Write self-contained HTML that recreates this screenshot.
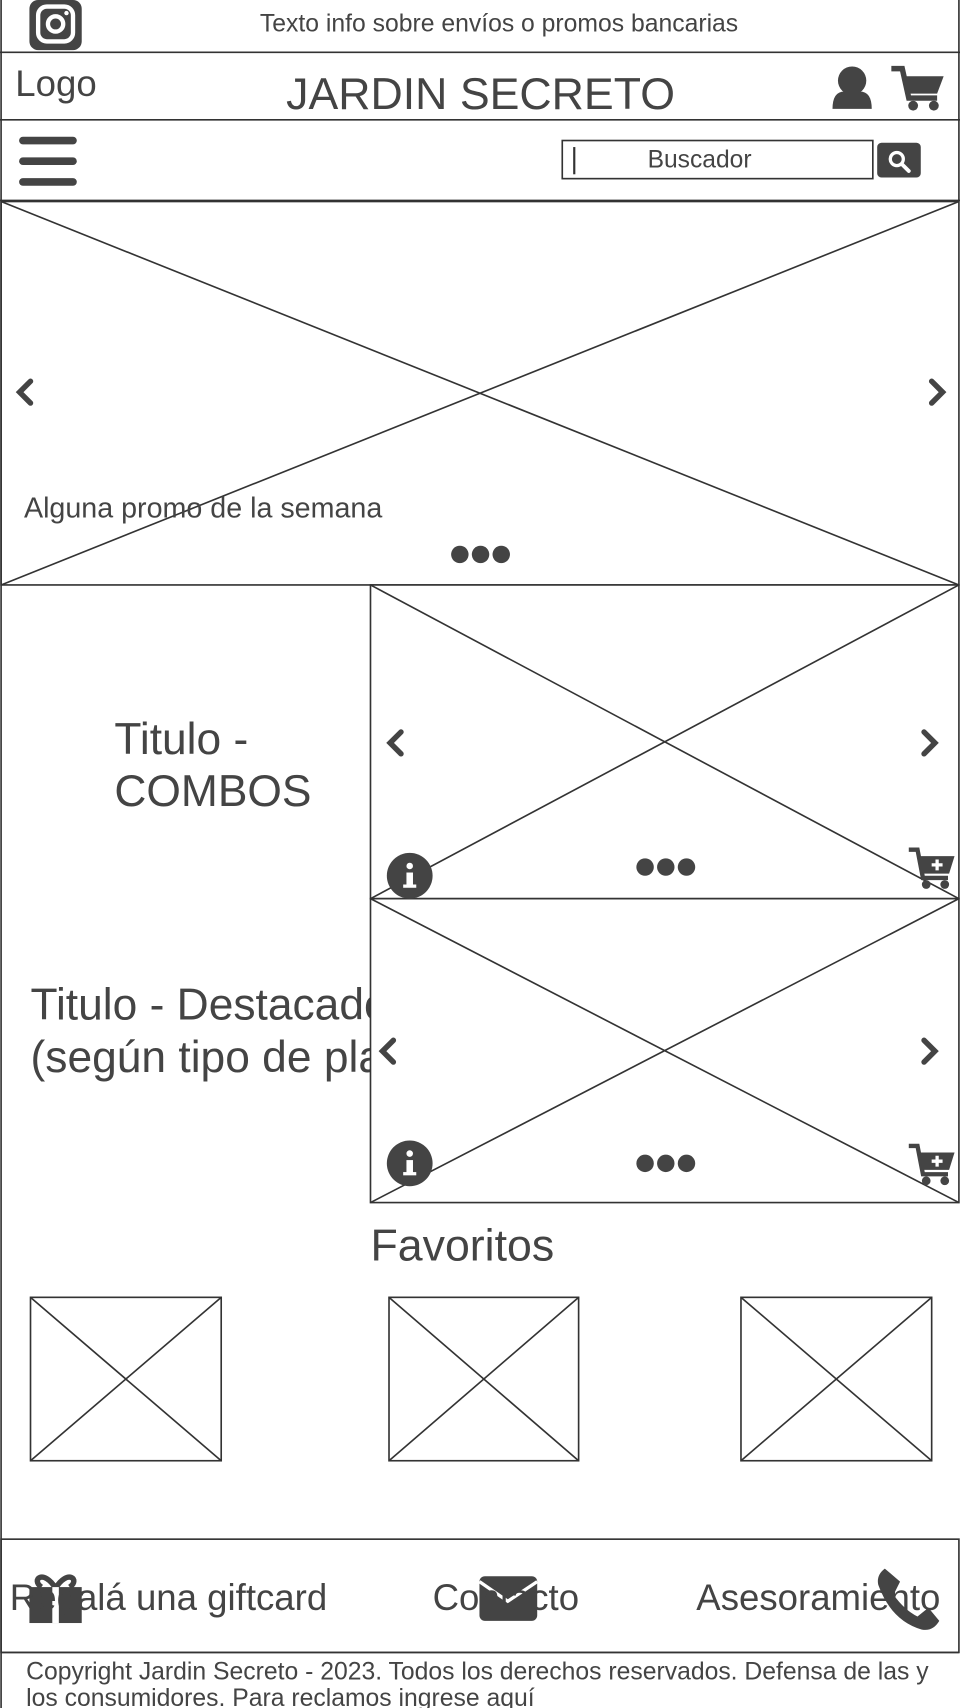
<!DOCTYPE html>
<html><head><meta charset="utf-8"><style>
html,body{margin:0;padding:0;background:#fff;}
svg{display:block;}
text{font-family:"Liberation Sans",sans-serif;fill:#444;}
</style></head><body>
<svg width="960" height="1708" viewBox="0 0 881 1568" preserveAspectRatio="none" xmlns="http://www.w3.org/2000/svg">
<g stroke="#333" stroke-width="1.5" fill="none">
<line x1="1" y1="0" x2="1" y2="1568"/>
<line x1="880" y1="0" x2="880" y2="184"/>
<line x1="0" y1="48" x2="881" y2="48"/>
<line x1="0" y1="110" x2="881" y2="110"/>
<line x1="0" y1="184" x2="881" y2="184"/>
</g>
<rect x="27" y="0" width="48" height="46" rx="8" fill="#444"/>
<rect x="35" y="6" width="32" height="32" rx="8" fill="none" stroke="#fff" stroke-width="4"/>
<circle cx="51" cy="22" r="7" fill="none" stroke="#fff" stroke-width="4"/>
<circle cx="61" cy="12" r="2" fill="#fff"/>
<text x="458" y="29" font-size="22.7" text-anchor="middle">Texto info sobre envíos o promos bancarias</text>
<text x="14" y="88" font-size="33.6">Logo</text>
<text x="441" y="100" font-size="41" text-anchor="middle">JARDIN SECRETO</text>
<circle cx="782" cy="74" r="13" fill="#444"/>
<path d="M764 100 Q764 84 775 84 L789 84 Q800 84 800 100 Z" fill="#444"/>
<path d="M818 63 L828 63 L834 90 L860 90" fill="none" stroke="#444" stroke-width="5"/>
<path d="M830 70 L866 70 L860 86 L834 86 Z" fill="#444"/>
<circle cx="838" cy="97" r="4.5" fill="#444"/><circle cx="857" cy="97" r="4.5" fill="#444"/>
<g stroke="#444" stroke-width="7" stroke-linecap="round">
<line x1="21" y1="129" x2="67" y2="129"/><line x1="21" y1="148" x2="67" y2="148"/><line x1="21" y1="167" x2="67" y2="167"/>
</g>
<rect x="516" y="129" width="285" height="35" fill="#fff" stroke="#333" stroke-width="1.5"/>
<line x1="527" y1="135" x2="527" y2="160" stroke="#333" stroke-width="2"/>
<text x="642" y="154" font-size="22.6" text-anchor="middle">Buscador</text>
<rect x="805" y="131" width="40" height="32" rx="4" fill="#444"/>
<circle cx="823" cy="146" r="6" fill="none" stroke="#fff" stroke-width="3"/>
<line x1="828" y1="151" x2="834" y2="157" stroke="#fff" stroke-width="3.5" stroke-linecap="round"/>
<g stroke="#333" stroke-width="1.5" fill="none">
<rect x="1" y="185" width="879" height="352"/>
<line x1="1" y1="185" x2="880" y2="537"/><line x1="880" y1="185" x2="1" y2="537"/>
</g>
<g stroke="#444" stroke-width="5" fill="none" stroke-linecap="round">
<polyline points="28,350 18,360 28,370"/><polyline points="855,350 865,360 855,370"/>
</g>
<text x="22" y="475" font-size="26.3">Alguna promo de la semana</text>
<circle cx="422" cy="509" r="8" fill="#444"/><circle cx="441" cy="509" r="8" fill="#444"/><circle cx="460" cy="509" r="8" fill="#444"/>
<text x="105" y="692" font-size="40.7">Titulo -</text>
<text x="105" y="740" font-size="40.7">COMBOS</text>
<text x="28" y="936" font-size="40.7">Titulo - Destacados</text>
<text x="28" y="984" font-size="40.7">(según tipo de planta)</text>
<g stroke="#333" stroke-width="1.5">
<rect x="340" y="537" width="540" height="288" fill="#fff"/>
<line x1="340" y1="537" x2="880" y2="825"/><line x1="880" y1="537" x2="340" y2="825"/>
<rect x="340" y="825" width="540" height="279" fill="#fff"/>
<line x1="340" y1="825" x2="880" y2="1104"/><line x1="880" y1="825" x2="340" y2="1104"/>
</g>
<g stroke="#444" stroke-width="5" fill="none" stroke-linecap="round">
<polyline points="368,672 358,682 368,692"/><polyline points="848,672 858,682 848,692"/>
<polyline points="361,955 351,965 361,975"/><polyline points="848,955 858,965 848,975"/>
</g>
<g>
<circle cx="376" cy="804" r="21" fill="#444"/>
<circle cx="376" cy="795" r="3" fill="#fff"/><rect x="373" y="801" width="6" height="13" fill="#fff"/><rect x="370" y="812" width="12" height="3" fill="#fff"/>
<circle cx="376" cy="1068" r="21" fill="#444"/>
<circle cx="376" cy="1059" r="3" fill="#fff"/><rect x="373" y="1065" width="6" height="13" fill="#fff"/><rect x="370" y="1076" width="12" height="3" fill="#fff"/>
</g>
<circle cx="592" cy="796" r="8" fill="#444"/><circle cx="611" cy="796" r="8" fill="#444"/><circle cx="630" cy="796" r="8" fill="#444"/>
<circle cx="592" cy="1068" r="8" fill="#444"/><circle cx="611" cy="1068" r="8" fill="#444"/><circle cx="630" cy="1068" r="8" fill="#444"/>
<g id="cp">
<path d="M834 780 L842 780 L847 806 L870 806" fill="none" stroke="#444" stroke-width="4"/>
<path d="M844 786 L876 786 L871 802 L847 802 Z" fill="#444"/>
<circle cx="850" cy="812" r="4" fill="#444"/><circle cx="867" cy="812" r="4" fill="#444"/>
<path d="M860 789 v10 M855 794 h10" stroke="#fff" stroke-width="3"/>
</g>
<use href="#cp" y="272"/>
<text x="340" y="1157" font-size="41">Favoritos</text>
<g stroke="#333" stroke-width="1.5" fill="none">
<rect x="28" y="1191" width="175" height="150"/><line x1="28" y1="1191" x2="203" y2="1341"/><line x1="203" y1="1191" x2="28" y2="1341"/>
<rect x="357" y="1191" width="174" height="150"/><line x1="357" y1="1191" x2="531" y2="1341"/><line x1="531" y1="1191" x2="357" y2="1341"/>
<rect x="680" y="1191" width="175" height="150"/><line x1="680" y1="1191" x2="855" y2="1341"/><line x1="855" y1="1191" x2="680" y2="1341"/>
<rect x="1" y="1413" width="879" height="104"/>
<line x1="1" y1="1517" x2="880" y2="1517"/>
</g>
<rect x="27" y="1462" width="48" height="28" fill="#444"/>
<rect x="27" y="1457" width="48" height="9" fill="#444"/>
<path d="M51 1458 C40 1440 28 1450 38 1457 M51 1458 C62 1440 74 1450 64 1457" fill="none" stroke="#444" stroke-width="5"/>
<rect x="48" y="1457" width="6" height="33" fill="#fff"/>
<rect x="440" y="1447" width="53" height="41" rx="5" fill="#444"/>
<path d="M440 1452 L466 1470 L493 1452" fill="none" stroke="#fff" stroke-width="3"/>
<path d="M812 1440 L826 1452 L820 1464 Q830 1478 842 1484 L852 1476 L862 1488 Q856 1498 846 1496 Q818 1488 806 1455 Q804 1446 812 1440 Z" fill="#444"/>
<text x="9" y="1478" font-size="33.6">Regalá una giftcard</text>
<text x="397" y="1478" font-size="33.6">Contacto</text>
<text x="639" y="1478" font-size="33.6">Asesoramiento</text>
<text x="24" y="1542" font-size="22.7">Copyright Jardin Secreto - 2023. Todos los derechos reservados. Defensa de las y</text>
<text x="24" y="1566" font-size="22.7">los consumidores. Para reclamos ingrese aquí</text>
</svg>
</body></html>
